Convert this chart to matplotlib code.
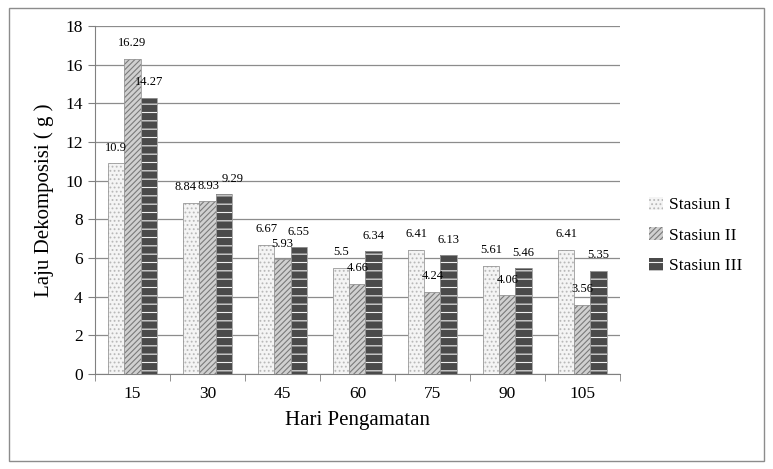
import matplotlib
matplotlib.use("Agg")
import matplotlib.pyplot as plt
import numpy as np
from matplotlib.patches import Rectangle

plt.rcParams['font.family'] = ['Liberation Serif', 'DejaVu Serif']
plt.rcParams['hatch.linewidth'] = 0.8

days = ['15', '30', '45', '60', '75', '90', '105']
series_names = ['Stasiun I', 'Stasiun II', 'Stasiun III']
stasiun1 = [10.9, 8.84, 6.67, 5.5, 6.41, 5.61, 6.41]
stasiun2 = [16.29, 8.93, 5.93, 4.66, 4.24, 4.06, 3.56]
stasiun3 = [14.27, 9.29, 6.55, 6.34, 6.13, 5.46, 5.35]
yticks = [0, 2, 4, 6, 8, 10, 12, 14, 16, 18]

# small label nudges (series index, category index) -> (dx in data units, dy)
label_nudge = {(0, 1): (-0.08, 0.0), (1, 1): (0.02, 0.0), (2, 1): (0.12, 0.0)}

fig = plt.figure(figsize=(7.73, 4.69), dpi=100)
fig.patches.append(Rectangle((0.011, 0.017), 0.978, 0.966, transform=fig.transFigure,
                             fill=False, edgecolor='#8c8c8c', linewidth=1.0))
ax = fig.add_axes([0.1229, 0.2026, 0.679, 0.742])

x = np.arange(len(days))
w = 0.215
styles = [
    dict(facecolor='#f4f4f4', hatch='....', hcolor='#b8b8b8'),
    dict(facecolor='#d0d0d0', hatch='//////', hcolor='#7a7a7a'),
    dict(facecolor='#4a4a4a', hatch='--', hcolor='#f0f0f0'),
]
data = [stasiun1, stasiun2, stasiun3]
handles = []
for i, (vals, st) in enumerate(zip(data, styles)):
    pos = x + (i - 1) * w
    b = ax.bar(pos, vals, w, facecolor=st['facecolor'], edgecolor=st['hcolor'],
               hatch=st['hatch'], linewidth=0, zorder=3, label=series_names[i])
    ax.bar(pos, vals, w, facecolor='none', edgecolor='#9a9a9a', linewidth=0.6, zorder=4)
    handles.append(b)
    for j, (p, v) in enumerate(zip(pos, vals)):
        dx, dy = label_nudge.get((i, j), (0.0, 0.0))
        ax.text(p + dx, v + 0.5 + dy, f'{v:g}', ha='center', va='bottom', fontsize=9, zorder=5)

ax.set_xlim(-0.5, len(days) - 0.5)
ax.set_ylim(0, 18)
ax.set_yticks(yticks)
ax.set_yticklabels([str(t) for t in yticks], fontsize=12.5)
ax.set_xticks(x)
ax.set_xticklabels(days, fontsize=12.5)
ax.set_xticks(np.arange(len(days) + 1) - 0.5, minor=True)
ax.tick_params(axis='x', which='major', length=0, pad=9)
ax.tick_params(axis='x', which='minor', length=5, color='#808080')
ax.tick_params(axis='y', length=5, color='#808080', pad=4)
ax.yaxis.grid(True, color='#8c8c8c', linewidth=0.9, zorder=0)
ax.set_axisbelow(True)
for s in ['top', 'right']:
    ax.spines[s].set_visible(False)
ax.spines['left'].set_color('#808080')
ax.spines['bottom'].set_color('#808080')

ax.set_ylabel('Laju Dekomposisi ( g )', fontsize=15, labelpad=8)
ax.set_xlabel('Hari Pengamatan', fontsize=15, labelpad=6)

leg = fig.legend(handles=handles, labels=series_names, loc='center left',
                 bbox_to_anchor=(0.82, 0.498), frameon=False, fontsize=12.5,
                 handlelength=0.8, handleheight=0.8, handletextpad=0.3,
                 labelspacing=0.8)

fig.savefig('out.png', dpi=100)
